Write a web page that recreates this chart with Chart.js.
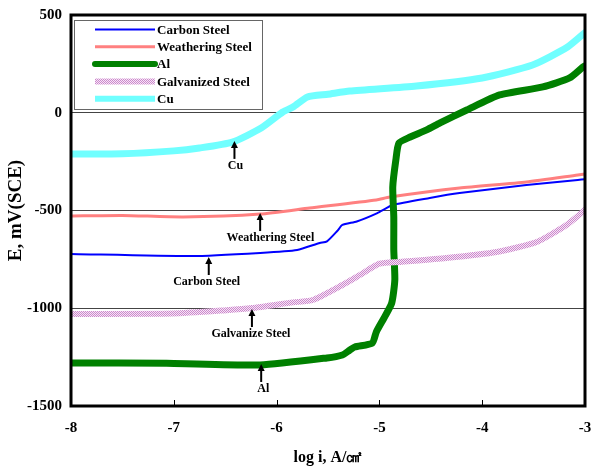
<!DOCTYPE html>
<html>
<head>
<meta charset="utf-8">
<script src="https://cdn.jsdelivr.net/npm/chart.js@4.4.1/dist/chart.umd.min.js"></script>
<style>
  html, body { margin: 0; padding: 0; background: #fff; }
</style>
</head>
<body>
<canvas id="chart" width="591" height="469"></canvas>
<script>
// series names, in legend order
const seriesNames = ['Carbon Steel', 'Weathering Steel', 'Al', 'Galvanized Steel', 'Cu'];

// log i values (x) and potentials in mV (y)
const carbonX = [-8, -6.82, -6.16, -5.80, -5.58, -5.51, -5.41, -5.36, -5.22, -5.02, -4.87, -4.51, -4.22, -3.57, -3.07, -3.0];
const carbonY = [-722, -733, -717, -702, -666, -658, -605, -574, -556, -513, -472, -436, -411, -370, -344, -340];

const weatherX = [-8, -7.5, -6.91, -6.16, -5.68, -5.03, -4.90, -4.22, -3.57, -3.07, -3.0];
const weatherY = [-528, -525, -533, -518, -487, -446, -431, -385, -354, -318, -313];

const alX = [-8, -7.07, -6.16, -5.51, -5.36, -5.29, -5.24, -5.07, -5.03, -4.95, -4.88, -4.85, -4.86, -4.86, -4.87, -4.84, -4.81, -4.70, -4.54, -4.41, -4.15, -3.83, -3.41, -3.15, -3.02, -3.0];
const alY = [-1280, -1281, -1290, -1254, -1239, -1215, -1198, -1178, -1121, -1045, -973, -855, -702, -533, -380, -242, -155, -124, -88, -52, 14, 91, 132, 178, 234, 240];

const galvX = [-8, -7.01, -6.49, -6.24, -5.84, -5.65, -5.36, -5.19, -5.0, -4.80, -4.35, -3.86, -3.47, -3.18, -3.0];
const galvY = [-1029, -1027, -1010, -999, -970, -958, -881, -830, -772, -763, -743, -712, -661, -574, -497];

const cuX = [-8, -7.5, -7.0, -6.75, -6.43, -6.15, -5.94, -5.84, -5.70, -5.5, -5.29, -4.64, -4.0, -3.51, -3.17, -3.0];
const cuY = [-211, -210, -195, -180, -150, -78, 4, 29, 81, 95, 111, 137, 178, 244, 336, 410];

const xTicks = [-8, -7, -6, -5, -4, -3];
const yTicks = [500, 0, -500, -1000, -1500];
const yGridLines = [0, -500, -1000];

// arrow annotations: label, arrow tip x, tip y, label centre x
const noteLabels = ['Cu', 'Weathering Steel', 'Carbon Steel', 'Galvanize Steel', 'Al'];
const noteX = [-6.41, -6.16, -6.66, -6.24, -6.15];
const noteY = [-144, -513, -738, -1004, -1285];
const noteTextX = [-6.40, -6.06, -6.68, -6.25, -6.13];

const serif = "'Liberation Serif', 'Times New Roman', serif";

function checker(c1, c2) {
  const p = document.createElement('canvas');
  p.width = 2; p.height = 2;
  const g = p.getContext('2d');
  g.fillStyle = c2; g.fillRect(0, 0, 2, 2);
  g.fillStyle = c1; g.fillRect(0, 0, 1, 1); g.fillRect(1, 1, 1, 1);
  return g.createPattern(p, 'repeat');
}

const galvPattern = checker('#cc88cc', '#f6e6f6');

const styles = [
  { color: '#0000ff', width: 2 },
  { color: '#ff8080', width: 3 },
  { color: '#008000', width: 7 },
  { color: galvPattern, width: 6 },
  { color: '#70ffff', width: 7 }
];

const xs = [carbonX, weatherX, alX, galvX, cuX];
const ys = [carbonY, weatherY, alY, galvY, cuY];
// later series sit on top
const drawOrder = [5, 4, 3, 2, 1];

const datasets = seriesNames.map((name, i) => ({
  label: name,
  data: xs[i].map((v, k) => ({ x: v, y: ys[i][k] })),
  borderColor: styles[i].color,
  borderWidth: styles[i].width,
  pointRadius: 0,
  fill: false,
  tension: 0.2,
  borderCapStyle: 'round',
  borderJoinStyle: 'round',
  order: drawOrder[i]
}));

const overlay = {
  id: 'overlay',
  afterDatasetsDraw(chart) {
    const { ctx, chartArea: a, scales: { x, y } } = chart;
    ctx.save();

    // small inward tick marks on the bottom axis
    ctx.strokeStyle = '#000';
    ctx.lineWidth = 1;
    xTicks.forEach(v => {
      const px = Math.round(x.getPixelForValue(v)) + 0.5;
      ctx.beginPath();
      ctx.moveTo(px, a.bottom);
      ctx.lineTo(px, a.bottom - 6);
      ctx.stroke();
    });

    // plot frame
    ctx.lineWidth = 3;
    ctx.strokeRect(a.left, a.top, a.right - a.left, a.bottom - a.top);

    // arrows with labels
    ctx.fillStyle = '#000';
    ctx.font = 'bold 12px ' + serif;
    ctx.textAlign = 'center';
    ctx.textBaseline = 'middle';
    noteLabels.forEach((t, i) => {
      const tx = x.getPixelForValue(noteX[i]);
      const ty = y.getPixelForValue(noteY[i]);
      ctx.beginPath();
      ctx.moveTo(tx, ty);
      ctx.lineTo(tx - 3.5, ty + 7);
      ctx.lineTo(tx + 3.5, ty + 7);
      ctx.closePath();
      ctx.fill();
      ctx.lineWidth = 2;
      ctx.beginPath();
      ctx.moveTo(tx, ty + 5);
      ctx.lineTo(tx, ty + 18);
      ctx.stroke();
      ctx.fillText(t, x.getPixelForValue(noteTextX[i]), ty + 25);
    });

    // legend box
    const lx = a.left + 3, ly = a.top + 5;
    ctx.fillStyle = '#fff';
    ctx.fillRect(lx, ly, 188, 89);
    ctx.strokeStyle = '#666';
    ctx.lineWidth = 1;
    ctx.strokeRect(lx + 0.5, ly + 0.5, 188, 89);
    ctx.textAlign = 'left';
    ctx.font = 'bold 13px ' + serif;
    seriesNames.forEach((name, i) => {
      const ry = ly + 9.5 + i * 17.3;
      ctx.strokeStyle = styles[i].color;
      ctx.lineWidth = styles[i].width === 7 ? 6 : styles[i].width;
      ctx.lineCap = i === 2 ? 'round' : 'butt';
      ctx.beginPath();
      ctx.moveTo(lx + 21, ry);
      ctx.lineTo(lx + 81, ry);
      ctx.stroke();
      ctx.fillStyle = '#000';
      ctx.fillText(name, lx + 83, ry + 1);
    });

    ctx.restore();
  }
};

new Chart(document.getElementById('chart'), {
  type: 'line',
  data: { datasets },
  options: {
    responsive: false,
    animation: false,
    layout: { padding: { top: 15, right: 6, left: 0, bottom: 0 } },
    plugins: { legend: { display: false }, tooltip: { enabled: false } },
    scales: {
      x: {
        type: 'linear',
        min: -8,
        max: -3,
        afterBuildTicks: s => { s.ticks = xTicks.map(v => ({ value: v })); },
        ticks: {
          color: '#000',
          padding: 13,
          callback: v => String(v),
          font: { family: serif, weight: 'bold', size: 15 }
        },
        grid: { display: false, drawTicks: false },
        border: { display: false },
        title: {
          display: true,
          text: 'log i, A/㎠',
          color: '#000',
          padding: { top: 2, bottom: 2 },
          font: { family: serif, weight: 'bold', size: 16 }
        },
        afterFit: s => { s.height = 63; s.paddingLeft = 0; s.paddingRight = 0; }
      },
      y: {
        type: 'linear',
        min: -1500,
        max: 500,
        afterBuildTicks: s => { s.ticks = yTicks.map(v => ({ value: v })); },
        ticks: {
          color: '#000',
          padding: 9,
          callback: v => String(v),
          font: { family: serif, weight: 'bold', size: 15 }
        },
        grid: {
          drawTicks: false,
          color: c => yGridLines.includes(c.tick.value) ? '#444' : 'rgba(0,0,0,0)',
          lineWidth: 1
        },
        border: { display: false },
        title: {
          display: true,
          text: 'E, mV(SCE)',
          color: '#000',
          padding: { top: 5, bottom: 5 },
          font: { family: serif, weight: 'bold', size: 19 }
        },
        afterFit: s => { s.width = 71; s.paddingTop = 0; s.paddingBottom = 0; }
      }
    }
  },
  plugins: [overlay]
});
</script>
</body>
</html>
